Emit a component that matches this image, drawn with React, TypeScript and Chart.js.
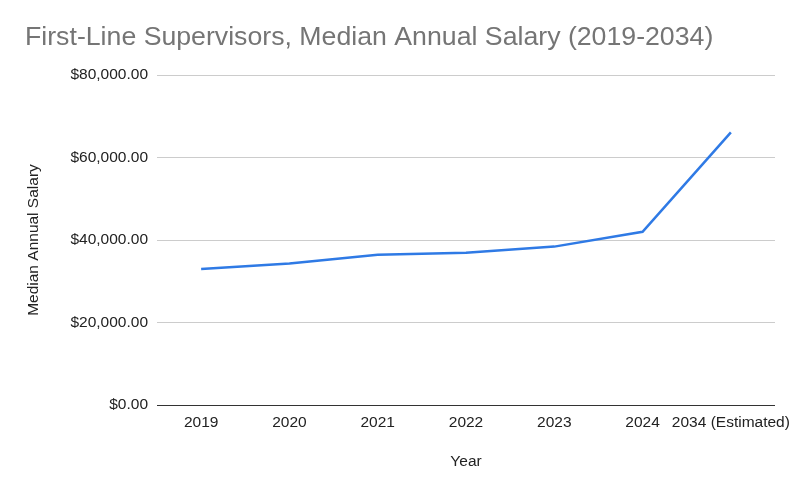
import React, { useEffect, useRef } from "react";
import { Chart, registerables } from "chart.js";

Chart.register(...registerables);

const categories = ["2019", "2020", "2021", "2022", "2023", "2024", "2034 (Estimated)"];
const salaries = [33000, 34300, 36400, 36900, 38400, 42000, 66100];
const yTicks = [0, 20000, 40000, 60000, 80000];

const FONT = "'Liberation Sans', Arial, sans-serif";

export default function App() {
  const ref = useRef<HTMLCanvasElement | null>(null);

  useEffect(() => {
    if (!ref.current) return;
    const chart = new Chart(ref.current, {
      type: "line",
      data: {
        labels: categories,
        datasets: [
          {
            label: "Median Annual Salary",
            data: salaries,
            borderColor: "#2f7ae5",
            backgroundColor: "#2f7ae5",
            borderWidth: 2.5,
            pointRadius: 0,
            tension: 0,
            fill: false,
          },
        ],
      },
      options: {
        responsive: false,
        animation: false,
        devicePixelRatio: 1,
        layout: { padding: { left: 25, right: 25, top: 0, bottom: 0 } },
        plugins: {
          legend: { display: false },
          tooltip: { enabled: false },
          title: {
            display: true,
            text: "First-Line Supervisors, Median Annual Salary (2019-2034)",
            align: "start",
            color: "#757575",
            font: { family: FONT, size: 26.7, weight: "normal", lineHeight: 1.2 },
            padding: { top: 22, bottom: 21 },
          },
        },
        scales: {
          x: {
            type: "category",
            offset: true,
            grid: { display: false, drawTicks: false },
            border: { display: false },
            ticks: {
              color: "#222",
              font: { family: FONT, size: 15.5 },
              padding: 8,
              maxRotation: 0,
              minRotation: 0,
              autoSkip: false,
            },
            title: {
              display: true,
              text: "Year",
              color: "#222",
              font: { family: FONT, size: 15.5 },
              padding: { top: 0, bottom: 24 },
            },
            afterFit: (scale: any) => {
              scale.height = 90;
            },
          },
          y: {
            min: 0,
            max: 80000,
            afterBuildTicks: (scale: any) => {
              scale.ticks = yTicks.map((v) => ({ value: v }));
            },
            grid: {
              drawTicks: false,
              color: (ctx: any) => (ctx.tick && ctx.tick.value === 0 ? "#333333" : "#cccccc"),
              lineWidth: 1,
            },
            border: { display: false },
            ticks: {
              color: "#222",
              font: { family: FONT, size: 15.5 },
              padding: 9,
              callback: (v: any) =>
                "$" +
                Number(v).toLocaleString("en-US", {
                  minimumFractionDigits: 2,
                  maximumFractionDigits: 2,
                }),
            },
            title: {
              display: true,
              text: "Median Annual Salary",
              color: "#222",
              font: { family: FONT, size: 15.5, lineHeight: 1.0 },
              padding: { top: 0.5, bottom: 0 },
            },
            afterFit: (scale: any) => {
              scale.width = 132;
            },
          },
        },
      },
    });
    return () => chart.destroy();
  }, []);

  return (
    <div style={{ position: "absolute", left: 0, top: 0, width: 800, height: 495, background: "#fff" }}>
      <canvas ref={ref} width={800} height={495} style={{ display: "block", width: 800, height: 495 }} />
    </div>
  );
}
